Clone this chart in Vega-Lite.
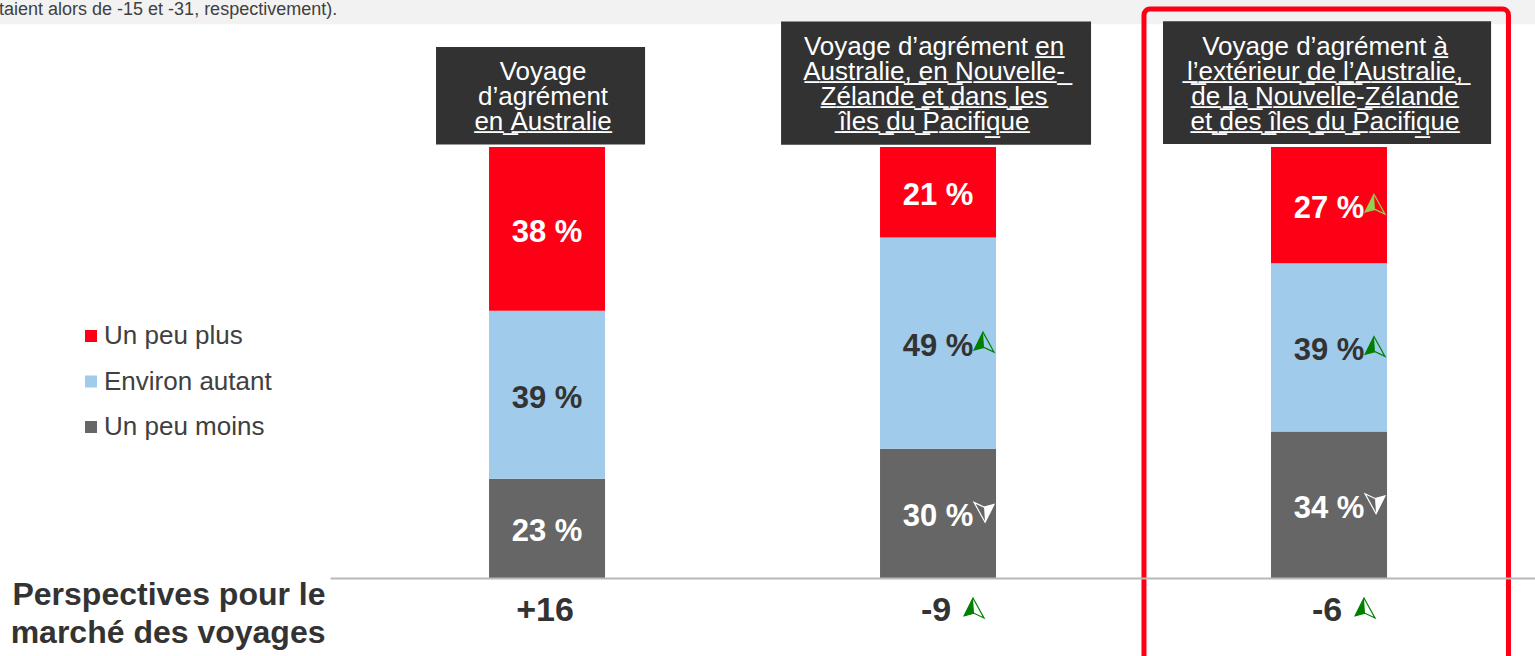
{
  "$schema": "https://vega.github.io/schema/vega-lite/v6.json",
  "width": 1535,
  "height": 656,
  "padding": 0,
  "autosize": {"type": "none"},
  "background": "#ffffff",
  "config": {"view": {"stroke": null}, "font": "Liberation Sans"},
  "title": {
    "text": "étaient alors de -15 et -31, respectivement).",
    "anchor": "start",
    "frame": "group",
    "orient": "top",
    "offset": -26,
    "dx": -11,
    "dy": 7,
    "baseline": "alphabetic",
    "font": "Liberation Sans",
    "fontSize": 18,
    "fontWeight": "normal",
    "color": "#404040"
  },
  "datasets": {
    "segments": [
      {"cat": "Australie", "seg": "Un peu moins", "pct": 23, "ord": 1, "trend": ""},
      {"cat": "Australie", "seg": "Environ autant", "pct": 39, "ord": 2, "trend": ""},
      {"cat": "Australie", "seg": "Un peu plus", "pct": 38, "ord": 3, "trend": ""},
      {"cat": "Australie + NZ + Pacifique", "seg": "Un peu moins", "pct": 30, "ord": 1, "trend": "down"},
      {"cat": "Australie + NZ + Pacifique", "seg": "Environ autant", "pct": 49, "ord": 2, "trend": "up"},
      {"cat": "Australie + NZ + Pacifique", "seg": "Un peu plus", "pct": 21, "ord": 3, "trend": ""},
      {"cat": "Extérieur", "seg": "Un peu moins", "pct": 34, "ord": 1, "trend": "down"},
      {"cat": "Extérieur", "seg": "Environ autant", "pct": 39, "ord": 2, "trend": "up"},
      {"cat": "Extérieur", "seg": "Un peu plus", "pct": 27, "ord": 3, "trend": "up"}
    ],
    "headers": [
      {"cat": "Australie", "header": ["Voyage", "d’agrément", "e̲n̲ ̲A̲u̲s̲t̲r̲a̲l̲i̲e̲"], "net": "+16", "nettrend": ""},
      {"cat": "Australie + NZ + Pacifique", "header": ["Voyage d’agrément e̲n̲", "A̲u̲s̲t̲r̲a̲l̲i̲e̲,̲ ̲e̲n̲ ̲N̲o̲u̲v̲e̲l̲l̲e̲-̲", "Z̲é̲l̲a̲n̲d̲e̲ ̲e̲t̲ ̲d̲a̲n̲s̲ ̲l̲e̲s̲", "î̲l̲e̲s̲ ̲d̲u̲ ̲P̲a̲c̲i̲f̲i̲q̲u̲e̲"], "net": "-9", "nettrend": "up"},
      {"cat": "Extérieur", "header": ["Voyage d’agrément à̲", "l̲’̲e̲x̲t̲é̲r̲i̲e̲u̲r̲ ̲d̲e̲ ̲l̲’̲A̲u̲s̲t̲r̲a̲l̲i̲e̲,̲", "d̲e̲ ̲l̲a̲ ̲N̲o̲u̲v̲e̲l̲l̲e̲-̲Z̲é̲l̲a̲n̲d̲e̲", "e̲t̲ ̲d̲e̲s̲ ̲î̲l̲e̲s̲ ̲d̲u̲ ̲P̲a̲c̲i̲f̲i̲q̲u̲e̲"], "net": "-6", "nettrend": "up"}
    ]
  },
  "layer": [
    {
      "data": {"values": [{}]},
      "mark": {"type": "rect", "color": "#f2f2f2", "opacity": 1},
      "encoding": {
        "y": {"datum": 134.1, "type": "quantitative", "axis": null, "scale": {"domain": [0, 100], "range": [578, 147], "nice": false, "zero": false}},
        "y2": {"datum": 128.5}
      }
    },
    {
      "data": {"values": [{}]},
      "mark": {"type": "rect", "filled": false, "color": "#fe0016", "strokeWidth": 5, "cornerRadius": 6, "opacity": 1},
      "encoding": {
        "x": {"datum": "Extérieur", "type": "nominal", "bandPosition": -1.095},
        "x2": {"datum": "Extérieur", "bandPosition": 2.047},
        "y": {"datum": 132.0, "type": "quantitative"},
        "y2": {"datum": -30}
      }
    },
    {
      "data": {"values": [{}]},
      "mark": {"type": "rect", "color": "#323232", "opacity": 1},
      "encoding": {
        "x": {"datum": "Australie", "type": "nominal", "bandPosition": -0.457},
        "x2": {"datum": "Australie", "bandPosition": 1.345},
        "y": {"datum": 100.6, "type": "quantitative"},
        "y2": {"datum": 123.2}
      }
    },
    {
      "data": {"values": [{}]},
      "mark": {"type": "rect", "color": "#323232", "opacity": 1},
      "encoding": {
        "x": {"datum": "Australie + NZ + Pacifique", "type": "nominal", "bandPosition": -0.853},
        "x2": {"datum": "Australie + NZ + Pacifique", "bandPosition": 1.819},
        "y": {"datum": 100.5, "type": "quantitative"},
        "y2": {"datum": 129.1}
      }
    },
    {
      "data": {"values": [{}]},
      "mark": {"type": "rect", "color": "#323232", "opacity": 1},
      "encoding": {
        "x": {"datum": "Extérieur", "type": "nominal", "bandPosition": -0.931},
        "x2": {"datum": "Extérieur", "bandPosition": 1.897},
        "y": {"datum": 100.7, "type": "quantitative"},
        "y2": {"datum": 129.2}
      }
    },
    {
      "data": {"name": "headers"},
      "mark": {"type": "text", "baseline": "bottom", "align": "center", "font": "Liberation Sans", "fontSize": 26, "lineHeight": 25, "color": "#ffffff", "xOffset": -4, "yOffset": {"expr": "-(length(datum.header) - 1) * 25"}, "opacity": 1},
      "encoding": {
        "x": {"field": "cat", "type": "nominal"},
        "y": {"datum": 102.83, "type": "quantitative"},
        "text": {"field": "header", "type": "nominal"}
      }
    },
    {
      "data": {"name": "segments"},
      "transform": [
        {"stack": "pct", "groupby": ["cat"], "sort": [{"field": "ord", "order": "ascending"}], "as": ["y0", "y1"]},
        {"calculate": "(datum.y0 + datum.y1) / 2", "as": "ymid"},
        {"calculate": "datum.pct + ' %'", "as": "lbl"}
      ],
      "layer": [
        {
          "mark": {"type": "bar", "opacity": 1},
          "encoding": {
            "x": {
              "field": "cat",
              "type": "nominal",
              "scale": {"domain": ["Australie", "Australie + NZ + Pacifique", "Extérieur"], "range": [330, 1535], "paddingInner": 0.7033, "paddingOuter": 0.3926, "align": 0.518, "round": false},
              "axis": {
                "title": ["Perspectives pour le", "marché des voyages"],
                "labels": false,
                "ticks": false,
                "grid": false,
                "domain": true,
                "domainColor": "#b8b8b8",
                "domainWidth": 2,
                "offset": -78,
                "titleX": 325,
                "titleY": 26,
                "titleAngle": 0,
                "titleAlign": "right",
                "titleBaseline": "alphabetic",
                "titleFont": "Liberation Sans",
                "titleFontSize": 32,
                "titleFontWeight": "bold",
                "titleColor": "#333333",
                "titleLineHeight": 38
              }
            },
            "y": {"field": "y0", "type": "quantitative", "axis": null, "scale": {"domain": [0, 100], "range": [578, 147], "nice": false, "zero": false}},
            "y2": {"field": "y1"},
            "color": {
              "field": "seg",
              "type": "nominal",
              "scale": {"domain": ["Un peu plus", "Environ autant", "Un peu moins"], "range": ["#fe0016", "#a1cbea", "#666666"]},
              "legend": {
                "title": null,
                "orient": "none",
                "legendX": 78,
                "legendY": 323,
                "padding": 0,
                "symbolType": "square",
                "symbolSize": 144,
                "symbolStrokeWidth": 0,
                "labelFont": "Liberation Sans",
                "labelFontSize": 26,
                "labelColor": "#404040",
                "labelOffset": 0,
                "labelLimit": 400,
                "rowPadding": 19.5
              }
            }
          }
        },
        {
          "mark": {"type": "text", "font": "Liberation Sans", "fontSize": 31, "fontWeight": "bold", "baseline": "middle", "align": "center", "opacity": 1, "dy": 4},
          "encoding": {
            "x": {"field": "cat", "type": "nominal"},
            "y": {"field": "ymid", "type": "quantitative"},
            "text": {"field": "lbl", "type": "nominal"},
            "color": {"condition": {"test": "datum.seg === 'Environ autant'", "value": "#333333"}, "value": "#ffffff"}
          }
        },
        {
          "transform": [{"filter": "datum.trend !== ''"}],
          "mark": {
            "type": "point",
            "filled": false,
            "size": 440,
            "strokeWidth": 1.2,
            "opacity": 1,
            "xOffset": 46,
            "yOffset": -1,
            "shape": {"expr": "datum.trend === 'down' ? 'M0.1,0.95L-0.95,-0.95L0,-0.5L0.95,-0.75Z' : 'M-0.1,-0.95L0.95,0.95L0,0.5L-0.95,0.75Z'"},
            "stroke": {"expr": "datum.seg === 'Un peu moins' ? '#ffffff' : datum.seg === 'Un peu plus' ? '#92d050' : '#008000'"}
          },
          "encoding": {
            "x": {"field": "cat", "type": "nominal"},
            "y": {"field": "ymid", "type": "quantitative"}
          }
        },
        {
          "transform": [{"filter": "datum.trend !== ''"}],
          "mark": {
            "type": "point",
            "filled": true,
            "size": 440,
            "strokeWidth": 0,
            "opacity": 1,
            "xOffset": 46,
            "yOffset": -1,
            "shape": {"expr": "datum.trend === 'down' ? 'M0.1,0.95L0,-0.5L0.95,-0.75Z' : 'M-0.1,-0.95L0,0.5L-0.95,0.75Z'"},
            "fill": {"expr": "datum.seg === 'Un peu moins' ? '#ffffff' : datum.seg === 'Un peu plus' ? '#92d050' : '#008000'"}
          },
          "encoding": {
            "x": {"field": "cat", "type": "nominal"},
            "y": {"field": "ymid", "type": "quantitative"}
          }
        }
      ]
    },
    {
      "data": {"name": "headers"},
      "mark": {"type": "text", "font": "Liberation Sans", "fontSize": 34, "fontWeight": "bold", "baseline": "middle", "align": "center", "color": "#333333", "xOffset": -2, "opacity": 1},
      "encoding": {
        "x": {"field": "cat", "type": "nominal"},
        "y": {"datum": -7.7, "type": "quantitative"},
        "text": {"field": "net", "type": "nominal"}
      }
    },
    {
      "data": {"name": "headers"},
      "transform": [{"filter": "datum.nettrend === 'up'"}],
      "mark": {"type": "point", "filled": false, "size": 440, "strokeWidth": 1.2, "opacity": 1, "xOffset": 36, "yOffset": -1, "shape": "M-0.1,-0.95L0.95,0.95L0,0.5L-0.95,0.75Z", "stroke": "#008000"},
      "encoding": {
        "x": {"field": "cat", "type": "nominal"},
        "y": {"datum": -7.2, "type": "quantitative"}
      }
    },
    {
      "data": {"name": "headers"},
      "transform": [{"filter": "datum.nettrend === 'up'"}],
      "mark": {"type": "point", "filled": true, "size": 440, "strokeWidth": 0, "opacity": 1, "xOffset": 36, "yOffset": -1, "shape": "M-0.1,-0.95L0,0.5L-0.95,0.75Z", "fill": "#008000"},
      "encoding": {
        "x": {"field": "cat", "type": "nominal"},
        "y": {"datum": -7.2, "type": "quantitative"}
      }
    }
  ]
}
